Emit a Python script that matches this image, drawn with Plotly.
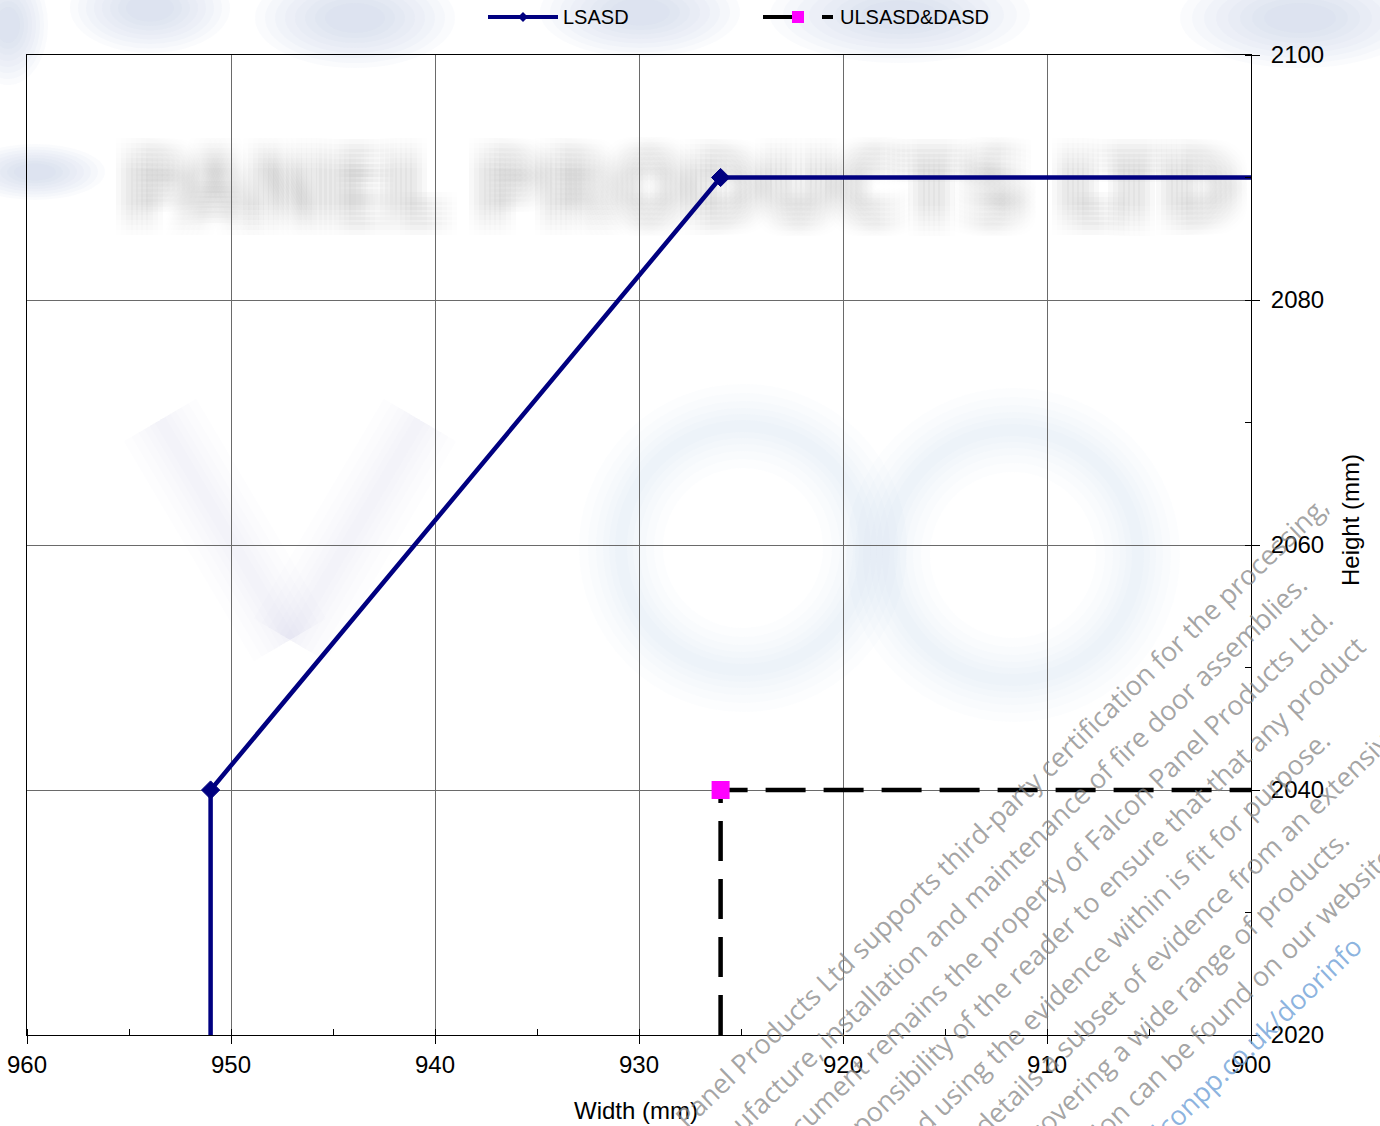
import math
import plotly.graph_objects as go

# ---- data -------------------------------------------------------------
# LSASD envelope: width (mm) against height (mm)
lsasd_width = [951, 951, 926, 900]
lsasd_height = [2020, 2040, 2090, 2090]

# ULSASD&DASD envelope
ulsasd_width = [926, 926, 900]
ulsasd_height = [2020, 2040, 2040]

series_names = ["LSASD", "ULSASD&DASD"]
x_range = [960, 900]
y_range = [2020, 2100]
x_title = "Width (mm)"
y_title = "Height (mm)"

watermark_lines = [
    "Falcon Panel Products Ltd supports third-party certification for the processing,",
    "manufacture, installation and maintenance of fire door assemblies.",
    "This document remains the property of Falcon Panel Products Ltd.",
    "It is the responsibility of the reader to ensure that that any product",
    "specified using the evidence within is fit for purpose.",
    "This document details a subset of evidence from an extensive",
    "portfolio covering a wide range of products.",
    "More information can be found on our website",
    "https://www.falconpp.co.uk/doorinfo",
]
logo_text = "PANEL PRODUCTS LTD"

# ---- page geometry ----------------------------------------------------
W, H = 1380, 1126
PL, PR, PT, PB = 27, 1251, 55, 1035  # plot-area edges in pixels


def px(x):
    return (x - PL) / (PR - PL)


def py(y):
    return (PB - y) / (PB - PT)


NAVY = "#000080"
MAGENTA = "#FF00FF"
ARIAL = "Liberation Sans, Arial, sans-serif"
AXIS_FONT = dict(family=ARIAL, size=24, color="black")

fig = go.Figure()

fig.add_trace(go.Scatter(
    x=lsasd_width, y=lsasd_height, name=series_names[0],
    mode="lines+markers",
    line=dict(color=NAVY, width=4.5),
    marker=dict(symbol="diamond", size=[0, 14, 14, 0], color=NAVY,
                line=dict(color=NAVY, width=1), opacity=1),
    showlegend=False,
))

fig.add_trace(go.Scatter(
    x=ulsasd_width, y=ulsasd_height, name=series_names[1],
    mode="lines+markers",
    line=dict(color="black", width=4.5, dash="40px,18px"),
    marker=dict(symbol="square", size=[0, 18, 0], color=MAGENTA,
                line=dict(width=0), opacity=1),
    showlegend=False,
))

axis_common = dict(
    showgrid=True, gridcolor="#6a6a6a", gridwidth=1,
    showline=True, linecolor="black", linewidth=1, mirror=True,
    ticks="outside", ticklen=8, tickcolor="black", tickwidth=1,
    tickfont=AXIS_FONT, zeroline=False, automargin=False,
)

fig.update_xaxes(
    range=x_range, tick0=900, dtick=10,
    minor=dict(dtick=5, ticks="inside", ticklen=6, tickcolor="black", showgrid=False),
    **axis_common,
)
fig.update_yaxes(
    range=y_range, tick0=2020, dtick=20, side="right",
    minor=dict(dtick=10, ticks="inside", ticklen=6, tickcolor="black", showgrid=False),
    ticklabelstandoff=6,
    **axis_common,
)

shapes = []
annotations = []

# axis titles
annotations.append(dict(text=x_title, xref="paper", yref="paper",
                        x=px(636), y=py(1110), xanchor="center", yanchor="middle",
                        showarrow=False, font=AXIS_FONT))
annotations.append(dict(text=y_title, xref="paper", yref="paper",
                        x=px(1350), y=py(520), xanchor="center", yanchor="middle",
                        textangle=-90, showarrow=False, font=AXIS_FONT))


# ---- soft company logo behind the chart --------------------------------
def soft_blob(cx, cy, rx, ry, rgb, alpha, steps=8):
    for k in range(steps):
        f = 1.0 - k * 0.1
        shapes.append(dict(type="circle", xref="paper", yref="paper", layer="below",
                           x0=px(cx - rx * f), x1=px(cx + rx * f),
                           y0=py(cy + ry * f), y1=py(cy - ry * f),
                           fillcolor=f"rgba({rgb},{alpha})", line=dict(width=0)))


SOFT_WIDTHS = (84, 66, 50, 36, 24, 12)


def soft_ring(cx, cy, rad, rgb, alpha):
    for w in SOFT_WIDTHS:
        shapes.append(dict(type="circle", xref="paper", yref="paper", layer="below",
                           x0=px(cx - rad), x1=px(cx + rad),
                           y0=py(cy + rad), y1=py(cy - rad),
                           fillcolor="rgba(0,0,0,0)",
                           line=dict(color=f"rgba({rgb},{alpha})", width=w)))


def soft_stroke(x0, y0, x1, y1, rgb, alpha):
    for w in SOFT_WIDTHS:
        shapes.append(dict(type="line", xref="paper", yref="paper", layer="below",
                           x0=px(x0), x1=px(x1), y0=py(y0), y1=py(y1),
                           line=dict(color=f"rgba({rgb},{alpha})", width=w)))


TOP_BLUE = "190,205,228"
for cx, cy, rx, ry in [(8, 25, 40, 60), (150, 8, 80, 45), (355, 18, 100, 50),
                       (640, 12, 100, 45), (900, 15, 130, 48), (1300, 18, 120, 50),
                       (35, 172, 70, 28)]:
    soft_blob(cx, cy, rx, ry, TOP_BLUE, 0.07)

PALE_BLUE = "205,216,234"
for cx, cy, rad in [(743, 548, 122), (1013, 555, 125)]:
    soft_ring(cx, cy, rad, PALE_BLUE, 0.05)
soft_stroke(160, 420, 290, 640, PALE_BLUE, 0.045)
soft_stroke(290, 640, 420, 420, PALE_BLUE, 0.045)

# blurred grey lettering: many faint, slightly shifted copies
offs = [-15, -10, -5, 0, 5, 10, 15]
for dx in offs:
    for dy in offs:
        cx, cy = 680 + dx, 182 + dy
        shapes.append(dict(type="rect", xref="paper", yref="paper", layer="below",
                           x0=px(cx - 10), x1=px(cx + 10), y0=py(cy + 10), y1=py(cy - 10),
                           line=dict(width=0), fillcolor="rgba(0,0,0,0)",
                           label=dict(text=logo_text, textposition="middle center",
                                      font=dict(family="DejaVu Sans", size=90, weight="bold",
                                                color="rgba(170,170,170,0.006)"))))

# ---- legend drawn across the top --------------------------------------
LEG_Y = 17
shapes.append(dict(type="line", xref="paper", yref="paper",
                   x0=px(488), x1=px(558), y0=py(LEG_Y), y1=py(LEG_Y),
                   line=dict(color=NAVY, width=4)))
cx, r = 523, 5
shapes.append(dict(type="path", xref="paper", yref="paper",
                   path=f"M{px(cx - r)},{py(LEG_Y)} L{px(cx)},{py(LEG_Y - r)} "
                        f"L{px(cx + r)},{py(LEG_Y)} L{px(cx)},{py(LEG_Y + r)} Z",
                   fillcolor=NAVY, line=dict(color=NAVY, width=0)))
shapes.append(dict(type="line", xref="paper", yref="paper",
                   x0=px(763), x1=px(793), y0=py(LEG_Y), y1=py(LEG_Y),
                   line=dict(color="black", width=4)))
shapes.append(dict(type="line", xref="paper", yref="paper",
                   x0=px(822), x1=px(833), y0=py(LEG_Y), y1=py(LEG_Y),
                   line=dict(color="black", width=4)))
shapes.append(dict(type="rect", xref="paper", yref="paper",
                   x0=px(792), x1=px(804), y0=py(LEG_Y - 6), y1=py(LEG_Y + 6),
                   fillcolor=MAGENTA, line=dict(width=0)))
LEG_FONT = dict(family=ARIAL, size=20, color="black")
annotations.append(dict(text=series_names[0], xref="paper", yref="paper",
                        x=px(561), y=py(LEG_Y), xanchor="left", yanchor="middle",
                        showarrow=False, font=LEG_FONT))
annotations.append(dict(text=series_names[1], xref="paper", yref="paper",
                        x=px(838), y=py(LEG_Y), xanchor="left", yanchor="middle",
                        showarrow=False, font=LEG_FONT))

# ---- diagonal notice text ---------------------------------------------
ANGLE = 44
ux, uy = math.cos(math.radians(ANGLE)), -math.sin(math.radians(ANGLE))
nx, ny = math.sin(math.radians(ANGLE)), math.cos(math.radians(ANGLE))
ALONG, ACROSS0, STEP = 112, 1279, 42.5
for i, line in enumerate(watermark_lines):
    last = i == len(watermark_lines) - 1
    across = ACROSS0 + STEP * i
    along = ALONG - (22 if last else 0)
    cxp = along * ux + across * nx
    cyp = along * uy + across * ny
    colour = "rgba(110,160,215,0.8)" if last else "rgba(130,130,130,0.72)"
    annotations.append(dict(
        text=line, xref="paper", yref="paper",
        x=px(cxp), y=py(cyp), xanchor="center", yanchor="middle",
        textangle=-ANGLE, showarrow=False,
        font=dict(family="Open Sans, sans-serif", size=27, color=colour),
    ))

fig.update_layout(
    width=W, height=H, autosize=False,
    margin=dict(l=PL, r=W - PR, t=PT, b=H - PB, pad=0),
    paper_bgcolor="white", plot_bgcolor="rgba(0,0,0,0)",
    shapes=shapes, annotations=annotations,
    showlegend=False,
)

fig.write_html("out.html")
